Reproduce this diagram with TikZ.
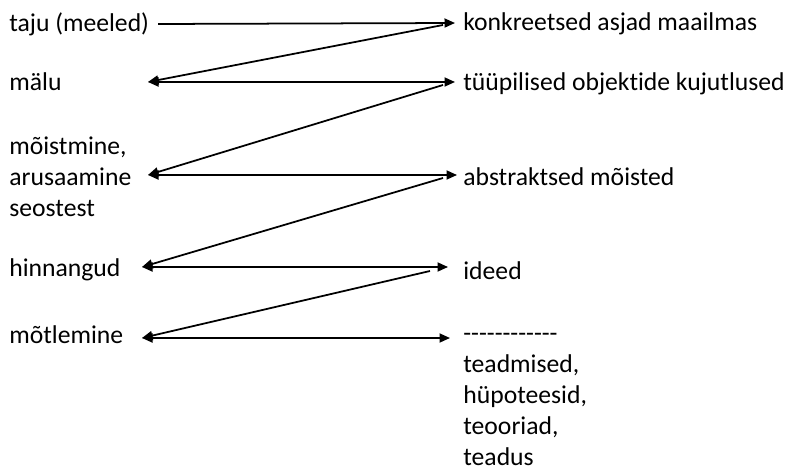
\documentclass[tikz,border=0pt]{standalone}
\usepackage{fontspec}
\setmainfont{Carlito}[Ligatures=NoCommon]
\usetikzlibrary{arrows.meta}

\tikzset{
  lbl/.style={anchor=base west, inner sep=0pt, align=left,
    font=\fontsize{14.6}{17.6}\selectfont},
  conn/.style={line width=1pt, -{Triangle[length=0.21cm, width=0.18cm]}},
  bconn/.style={line width=1pt, {Triangle[length=0.21cm, width=0.18cm]}-{Triangle[length=0.21cm, width=0.18cm]}}
}
% a row of single hyphens (no dash ligatures)
\newcommand\hyphenrow{\foreach \i in {1,...,12}{\mbox{-}}}

\begin{document}
\begin{tikzpicture}[x=0.02cm, y=-0.02cm]
			%%%%% START %%%%%
			\useasboundingbox (0, 0) rectangle (786, 469);
			
			% left column (multi-line nodes sit on their last line)
			\node[lbl] (taju) at (9, 32) {taju (meeled)};
			\node[lbl] (malu) at (9, 91) {mälu};
			\node[lbl] (moist) at (9, 216) {mõistmine,\\arusaamine\\seostest};
			\node[lbl] (hinn) at (9, 276) {hinnangud};
			\node[lbl] (motl) at (9, 343) {mõtlemine};
			
			% right column
			\node[lbl] (konkr) at (463, 31) {konkreetsed asjad maailmas};
			\node[lbl] (tyyp) at (463, 91) {tüüpilised objektide kujutlused};
			\node[lbl] (abstr) at (463, 186) {abstraktsed mõisted};
			\node[lbl] (ideed) at (463, 279) {ideed};
			\node[lbl] (teadm) at (463, 465) {\hyphenrow\\teadmised,\\hüpoteesid,\\teooriad,\\teadus};
			
			% arrow ends
			\coordinate (s1) at (158, 24);
			\coordinate (r1) at (455, 23);
			\coordinate (l2) at (148, 82);
			\coordinate (r2) at (455, 82);
			\coordinate (l3) at (148, 175);
			\coordinate (r3) at (457, 175);
			\coordinate (l4) at (142, 267);
			\coordinate (r4) at (448, 267);
			\coordinate (l5) at (142, 338);
			\coordinate (r5) at (450, 338);
			
			\coordinate (d1) at (443, 25);
			\coordinate (d2) at (443, 85);
			\coordinate (d3) at (443, 178);
			\coordinate (d4) at (430, 271);
			
			% horizontal arrows
			\draw[conn] (s1) -- (r1);
			\draw[bconn] (l2) -- (r2);
			\draw[bconn] (l3) -- (r3);
			\draw[bconn] (l4) -- (r4);
			\draw[bconn] (l5) -- (r5);
			
			% diagonal arrows
			\draw[conn] (d1) -- (l2);
			\draw[conn] (d2) -- (l3);
			\draw[conn] (d3) -- (l4);
			\draw[conn] (d4) -- (l5);
			
			%%%%% END %%%%%
\end{tikzpicture}
\end{document}
